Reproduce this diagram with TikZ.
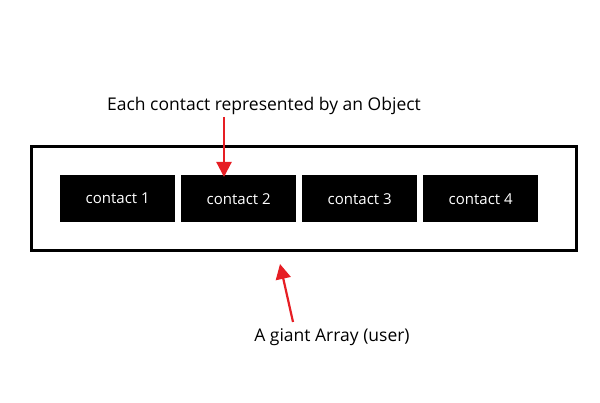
\documentclass[tikz,border=0pt]{standalone}
\usepackage{fontspec}
\setmainfont{Open Sans}
\usetikzlibrary{arrows.meta}
\definecolor{arrred}{RGB}{230,30,36}
\begin{document}
\begin{tikzpicture}[x=1pt,y=-1pt,
  contact/.style={fill=black,text=white,minimum width=115pt,minimum height=47pt,inner sep=0pt,font=\fontsize{15}{17}\selectfont,anchor=north west},
  redarrow/.style={draw=arrred,line width=2.2pt,-{Triangle[length=15pt,width=15pt,fill=arrred]}},
  lbl/.style={font=\fontsize{17.5}{20}\selectfont,inner sep=0pt}]
\useasboundingbox (0,0) rectangle (600,403);
\draw[line width=3pt] (31,147) rectangle (576,251);
\node[contact] (c1) at (60,175) {contact 1};
\node[contact] (c2) at (181,175) {contact 2};
\node[contact] (c3) at (302,175) {contact 3};
\node[contact] (c4) at (423,175) {contact 4};
\node[lbl] (t1) at (264,106) {Each contact represented by an Object};
\node[lbl] (t2) at (332,337) {A giant Array (user)};
\coordinate (s1) at (224,117);
\coordinate (e1) at (224,177);
\coordinate (s2) at (293,322);
\coordinate (e2) at (280,264);
\draw[redarrow] (s1) -- (e1);
\draw[redarrow] (s2) -- (e2);
\end{tikzpicture}
\end{document}
